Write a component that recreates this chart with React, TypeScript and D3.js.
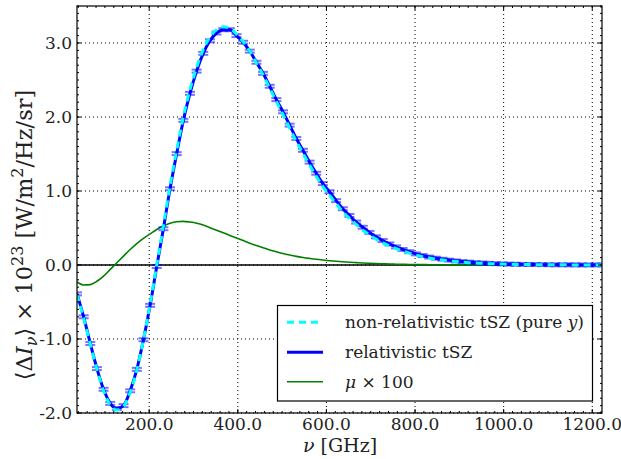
import React, { useEffect, useRef } from 'react';
import * as d3 from 'd3';

// frequency grid of the simulated points [GHz]
const nu: number[] = d3.range(80).map(k => 37 + 15 * k);

// relativistic tSZ (blue, with error caps)
const relTSZ: number[] = [
  -0.39, -0.70, -1.06, -1.40, -1.68, -1.87, -1.94, -1.90, -1.70, -1.41,
  -1.01, -0.545, -0.02, 0.49, 1.03, 1.505, 1.955, 2.32, 2.62, 2.86,
  3.03, 3.135, 3.18, 3.18, 3.10, 3.01, 2.89, 2.74, 2.59, 2.415,
  2.235, 2.07, 1.89, 1.71, 1.55, 1.39, 1.24, 1.10, 0.99, 0.87,
  0.76, 0.67, 0.58, 0.51, 0.44, 0.38, 0.33, 0.285, 0.245, 0.21,
  0.18, 0.15, 0.128, 0.108, 0.092, 0.078, 0.066, 0.055, 0.046, 0.039,
  0.032, 0.027, 0.022, 0.018, 0.015, 0.012, 0.010, 0.008, 0.007, 0.006,
  0.005, 0.004, 0.003, 0.003, 0.002, 0.002, 0.001, 0.001, 0.001, 0.001,
];

// non-relativistic tSZ, pure y (cyan dashed)
const nonRelTSZ: number[] = [
  -0.40, -0.72, -1.07, -1.41, -1.70, -1.89, -1.96, -1.91, -1.72, -1.42,
  -1.01, -0.53, 0.0, 0.53, 1.07, 1.55, 2.0, 2.37, 2.67, 2.91,
  3.08, 3.18, 3.22, 3.20, 3.12, 3.02, 2.89, 2.73, 2.57, 2.39,
  2.21, 2.03, 1.85, 1.67, 1.51, 1.35, 1.20, 1.06, 0.94, 0.83,
  0.72, 0.63, 0.55, 0.47, 0.41, 0.35, 0.30, 0.26, 0.22, 0.19,
  0.16, 0.135, 0.113, 0.095, 0.080, 0.067, 0.056, 0.047, 0.039, 0.032,
  0.027, 0.022, 0.018, 0.015, 0.012, 0.010, 0.008, 0.007, 0.006, 0.005,
  0.004, 0.003, 0.002, 0.002, 0.002, 0.001, 0.001, 0.001, 0.001, 0.001,
];

// mu distortion x 100 (green)
const muX100: number[] = [
  -0.23, -0.27, -0.265, -0.22, -0.15, -0.06, 0.03, 0.12, 0.21, 0.29,
  0.36, 0.42, 0.48, 0.53, 0.565, 0.585, 0.59, 0.58, 0.565, 0.54,
  0.505, 0.47, 0.435, 0.40, 0.365, 0.33, 0.295, 0.262, 0.232, 0.204,
  0.178, 0.155, 0.135, 0.117, 0.102, 0.089, 0.077, 0.067, 0.058, 0.05,
  0.043, 0.037, 0.032, 0.027, 0.023, 0.019, 0.016, 0.013, 0.011, 0.009,
  0.007, 0.006, 0.005, 0.004, 0.003, 0.003, 0.002, 0.002, 0.002, 0.001,
  0.001, 0.001, 0.001, 0.001, 0.0, 0.0, 0.0, 0.0, 0.0, 0.0,
  0.0, 0.0, 0.0, 0.0, 0.0, 0.0, 0.0, 0.0, 0.0, 0.0,
];

const errSize = 0.02;

const xTicks = [200, 400, 600, 800, 1000, 1200];
const yTicks = [-2, -1, 0, 1, 2, 3];

const W = 621;
const H = 459;
const FONT = "'DejaVu Serif', serif";

export default function App() {
  const svgRef = useRef<SVGSVGElement>(null);

  useEffect(() => {
    const svg = d3.select(svgRef.current);
    svg.selectAll('*').remove();

    const left = 77, right = 602, top = 6, bottom = 413;
    const x = d3.scaleLinear().domain([37, 1222]).range([left, right]);
    const y = d3.scaleLinear().domain([-2, 3.5]).range([bottom, top]);

    svg.append('rect').attr('width', W).attr('height', H).attr('fill', 'white');

    const defs = svg.append('defs');
    defs.append('clipPath').attr('id', 'plot-clip')
      .append('rect').attr('x', left).attr('y', top)
      .attr('width', right - left).attr('height', bottom - top);

    // grid
    const grid = svg.append('g').attr('stroke', '#000').attr('stroke-width', 1)
      .attr('stroke-dasharray', '1,3');
    xTicks.forEach(t => {
      grid.append('line').attr('x1', x(t)).attr('x2', x(t)).attr('y1', top).attr('y2', bottom);
    });
    yTicks.forEach(t => {
      grid.append('line').attr('x1', left).attr('x2', right).attr('y1', y(t)).attr('y2', y(t));
    });

    const plot = svg.append('g').attr('clip-path', 'url(#plot-clip)');

    // zero line
    plot.append('line').attr('x1', left).attr('x2', right)
      .attr('y1', y(0)).attr('y2', y(0))
      .attr('stroke', '#000').attr('stroke-width', 1.6);

    const line = (vals: number[]) =>
      d3.line<number>()
        .x((_, i) => x(nu[i]))
        .y(d => y(d))
        .curve(d3.curveMonotoneX)(vals) || '';

    plot.append('path').attr('d', line(muX100))
      .attr('fill', 'none').attr('stroke', '#008000').attr('stroke-width', 1.6);

    // error caps
    const caps = plot.append('g').attr('stroke', '#0000ff').attr('stroke-opacity', 0.55)
      .attr('stroke-width', 2);
    nu.forEach((n, i) => {
      [relTSZ[i] + errSize, relTSZ[i] - errSize].forEach(v => {
        caps.append('line')
          .attr('x1', x(n) - 5).attr('x2', x(n) + 5)
          .attr('y1', y(v)).attr('y2', y(v));
      });
      caps.append('line')
        .attr('x1', x(n)).attr('x2', x(n))
        .attr('y1', y(relTSZ[i] + errSize)).attr('y2', y(relTSZ[i] - errSize));
    });

    plot.append('path').attr('d', line(relTSZ))
      .attr('fill', 'none').attr('stroke', '#0000ff').attr('stroke-width', 3);

    plot.append('path').attr('d', line(nonRelTSZ))
      .attr('fill', 'none').attr('stroke', '#00ffff').attr('stroke-width', 3)
      .attr('stroke-dasharray', '7,5');

    // frame
    svg.append('rect').attr('x', left).attr('y', top)
      .attr('width', right - left).attr('height', bottom - top)
      .attr('fill', 'none').attr('stroke', '#000').attr('stroke-width', 1.2);

    // ticks
    const tk = svg.append('g').attr('stroke', '#000').attr('stroke-width', 1);
    xTicks.forEach(t => {
      tk.append('line').attr('x1', x(t)).attr('x2', x(t)).attr('y1', bottom).attr('y2', bottom - 4);
      tk.append('line').attr('x1', x(t)).attr('x2', x(t)).attr('y1', top).attr('y2', top + 4);
    });
    d3.range(40, 1222, 20).forEach(t => {
      tk.append('line').attr('x1', x(t)).attr('x2', x(t)).attr('y1', bottom).attr('y2', bottom - 2);
      tk.append('line').attr('x1', x(t)).attr('x2', x(t)).attr('y1', top).attr('y2', top + 2);
    });
    d3.range(-2, 3.51, 0.1).forEach(t => {
      tk.append('line').attr('x1', left).attr('x2', left + 2).attr('y1', y(t)).attr('y2', y(t));
      tk.append('line').attr('x1', right).attr('x2', right - 2).attr('y1', y(t)).attr('y2', y(t));
    });
    yTicks.forEach(t => {
      tk.append('line').attr('x1', left).attr('x2', left + 4).attr('y1', y(t)).attr('y2', y(t));
      tk.append('line').attr('x1', right).attr('x2', right - 4).attr('y1', y(t)).attr('y2', y(t));
    });

    // tick labels
    const labels = svg.append('g').style('font-family', FONT).attr('font-size', 17).attr('fill', '#222');
    xTicks.forEach(t => {
      labels.append('text').attr('x', x(t)).attr('y', 430)
        .attr('text-anchor', 'middle').text(t.toFixed(1));
    });
    yTicks.forEach(t => {
      labels.append('text').attr('x', 72).attr('y', y(t) + 6)
        .attr('text-anchor', 'end').text(t.toFixed(1));
    });

    // axis labels
    const xl = svg.append('text').attr('x', 340).attr('y', 452)
      .attr('text-anchor', 'middle').style('font-family', FONT).attr('font-size', 19).attr('fill', '#222');
    xl.append('tspan').attr('font-style', 'italic').text('ν');
    xl.append('tspan').text(' [GHz]');

    const yl = svg.append('text')
      .attr('transform', 'translate(32,235) rotate(-90)')
      .attr('text-anchor', 'middle').style('font-family', FONT).attr('font-size', 22.5).attr('fill', '#222');
    yl.append('tspan').text('⟨Δ');
    yl.append('tspan').attr('font-style', 'italic').text('I');
    yl.append('tspan').attr('font-style', 'italic').attr('font-size', 16).attr('dy', 5).text('ν');
    yl.append('tspan').attr('dy', -5).text('⟩ × 10');
    yl.append('tspan').attr('font-size', 16).attr('dy', -9).text('23');
    yl.append('tspan').attr('dy', 9).text(' [W/m');
    yl.append('tspan').attr('font-size', 16).attr('dy', -9).text('2');
    yl.append('tspan').attr('dy', 9).text('/Hz/sr]');

    // legend
    const lg = svg.append('g');
    lg.append('rect').attr('x', 277.5).attr('y', 305.5).attr('width', 315).attr('height', 95.5)
      .attr('fill', 'white').attr('stroke', '#000').attr('stroke-width', 1.2);
    const rows = [
      { y: 322.3, color: '#00ffff', dash: '7,5', w: 3, parts: [['non-relativistic tSZ (pure ', false], ['y', true], [')', false]] },
      { y: 352.3, color: '#0000ff', dash: null, w: 3, parts: [['relativistic tSZ', false]] },
      { y: 381.7, color: '#008000', dash: null, w: 1.6, parts: [['μ', true], [' × 100', false]] },
    ];
    rows.forEach(r => {
      lg.append('line').attr('x1', 287).attr('x2', 323).attr('y1', r.y).attr('y2', r.y)
        .attr('stroke', r.color).attr('stroke-width', r.w)
        .attr('stroke-dasharray', r.dash);
      const t = lg.append('text').attr('x', 345).attr('y', r.y + 6)
        .style('font-family', FONT).attr('font-size', 17).attr('fill', '#222');
      r.parts.forEach(([s, it]) => {
        t.append('tspan').attr('font-style', it ? 'italic' : 'normal').text(s as string);
      });
    });
  }, []);

  return (
    <svg ref={svgRef} width={W} height={H}
      style={{ position: 'absolute', left: 0, top: 0, display: 'block' }} />
  );
}
